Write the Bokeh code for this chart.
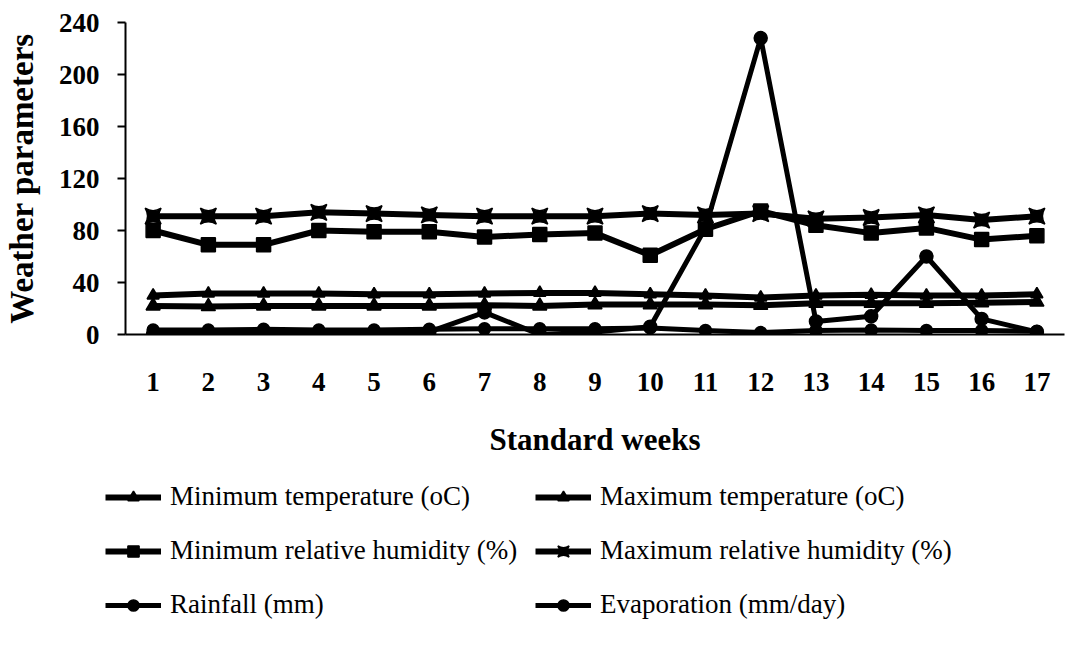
from bokeh.plotting import figure
from bokeh.layouts import column, row
from bokeh.models import Range1d, FixedTicker, Legend, LegendItem
from bokeh.embed import file_html
from bokeh.resources import INLINE

# Weekly weather observations, standard weeks 1-17
weeks = list(range(1, 18))
min_temp = [22, 21.5, 22, 22, 22, 22, 22.5, 22, 23, 23, 23, 22.5, 24, 24, 24, 24.5, 25]
max_temp = [30, 31.5, 31.5, 31.5, 31, 31, 31.5, 32, 32, 31, 30, 28.5, 30, 30.5, 30, 30, 31]
min_rh = [80, 69, 69, 80, 79, 79, 75, 77, 78, 61, 81, 95, 84, 78, 82, 73, 76]
max_rh = [91, 91, 91, 94, 93, 92, 91, 91, 91, 93, 92, 93, 89, 90, 92, 88, 91]
rainfall = [0, 0, 0, 0, 0, 2, 17, 0, 2, 6, 82, 228, 10, 14, 60, 12, 2]
evaporation = [3.5, 3.5, 4, 3.5, 3.5, 4, 4.5, 4.5, 4.5, 5, 3, 1.5, 3, 3.5, 3, 3, 2.5]
y_ticks = [0, 40, 80, 120, 160, 200, 240]

series_labels = ["Minimum temperature (oC)", "Maximum temperature (oC)",
                 "Minimum relative humidity (%)", "Maximum relative humidity (%)",
                 "Rainfall (mm)", "Evaporation (mm/day)"]

SERIF = "Liberation Serif"

# ---- chart ----
p = figure(width=1067, height=470, output_backend="svg", toolbar_location=None,
           x_range=Range1d(0.5, 17.5), y_range=Range1d(0, 240),
           min_border_left=125, min_border_right=3, min_border_top=22,
           min_border_bottom=136)
p.outline_line_color = None
p.grid.visible = False
p.background_fill_color = "white"
p.border_fill_color = "white"

p.xaxis.ticker = FixedTicker(ticks=weeks)
p.yaxis.ticker = FixedTicker(ticks=y_ticks)
p.xaxis.minor_tick_line_color = None
p.yaxis.minor_tick_line_color = None
p.xaxis.major_tick_out = 0
p.xaxis.major_tick_in = 0
p.yaxis.major_tick_in = 0
p.yaxis.major_tick_out = 8
p.axis.axis_line_width = 2
p.axis.major_tick_line_width = 2
p.axis.axis_line_color = "black"
p.axis.major_tick_line_color = "black"

p.xaxis.major_label_text_font = SERIF
p.xaxis.major_label_text_font_style = "bold"
p.xaxis.major_label_text_font_size = "27px"
p.xaxis.major_label_text_color = "black"
p.xaxis.major_label_standoff = 38
p.xaxis.axis_label = "Standard weeks"
p.xaxis.axis_label_text_font = SERIF
p.xaxis.axis_label_text_font_style = "bold"
p.xaxis.axis_label_text_font_size = "31px"
p.xaxis.axis_label_text_color = "black"
p.xaxis.axis_label_standoff = 28

p.yaxis.major_label_text_font = SERIF
p.yaxis.major_label_text_font_style = "bold"
p.yaxis.major_label_text_font_size = "27px"
p.yaxis.major_label_text_color = "black"
p.yaxis.major_label_standoff = 18
p.yaxis.axis_label = "Weather parameters"
p.yaxis.axis_label_text_font = SERIF
p.yaxis.axis_label_text_font_style = "bold"
p.yaxis.axis_label_text_font_size = "33px"
p.yaxis.axis_label_text_color = "black"
p.yaxis.axis_label_standoff = 16

LW = 6
STYLES = [("triangle", 14, LW), ("triangle", 12, LW), ("square", 14, LW),
          ("square_pin", 16, LW), ("circle", 13, 5), ("circle", 12, 5)]
DATA = [min_temp, max_temp, min_rh, max_rh, rainfall, evaporation]

def draw(fig, y, marker, size, lw, visible=True):
    ln = fig.line(weeks, y, line_color="black", line_width=lw, visible=visible)
    mk = fig.scatter(weeks, y, marker=marker, size=size, fill_color="black",
                     line_color="black", line_width=1.5, visible=visible)
    return [ln, mk]

for y, (m, s, lw) in zip(DATA, STYLES):
    draw(p, y, m, s, lw)

# ---- legend panel: two columns, each its own legend ----
leg = figure(width=1067, height=175, output_backend="svg", toolbar_location=None,
             x_range=Range1d(0.5, 17.5), y_range=Range1d(0, 240),
             min_border=0, min_border_left=0, min_border_right=0,
             min_border_top=0, min_border_bottom=0,
             x_axis_location=None, y_axis_location=None)
leg.outline_line_color = None
leg.grid.visible = False
leg.border_fill_color = "white"

legend_renderers = [draw(leg, y, m, s, lw, visible=False) for y, (m, s, lw) in zip(DATA, STYLES)]
entries = list(zip(series_labels, legend_renderers))

def make_legend(items, x):
    return Legend(items=[LegendItem(label=l, renderers=r) for l, r in items],
                  orientation="vertical", location=(x, 25),
                  glyph_width=56, glyph_height=28, label_height=28,
                  label_standoff=9, spacing=23, padding=0, margin=0,
                  border_line_color=None, background_fill_alpha=0,
                  label_text_font=SERIF, label_text_font_size="27px",
                  label_text_color="black")

leg.add_layout(make_legend(entries[0::2], 105))
leg.add_layout(make_legend(entries[1::2], 535))

layout = column(p, row(leg), spacing=0)
open("out.html", "w").write(file_html(layout, INLINE))
